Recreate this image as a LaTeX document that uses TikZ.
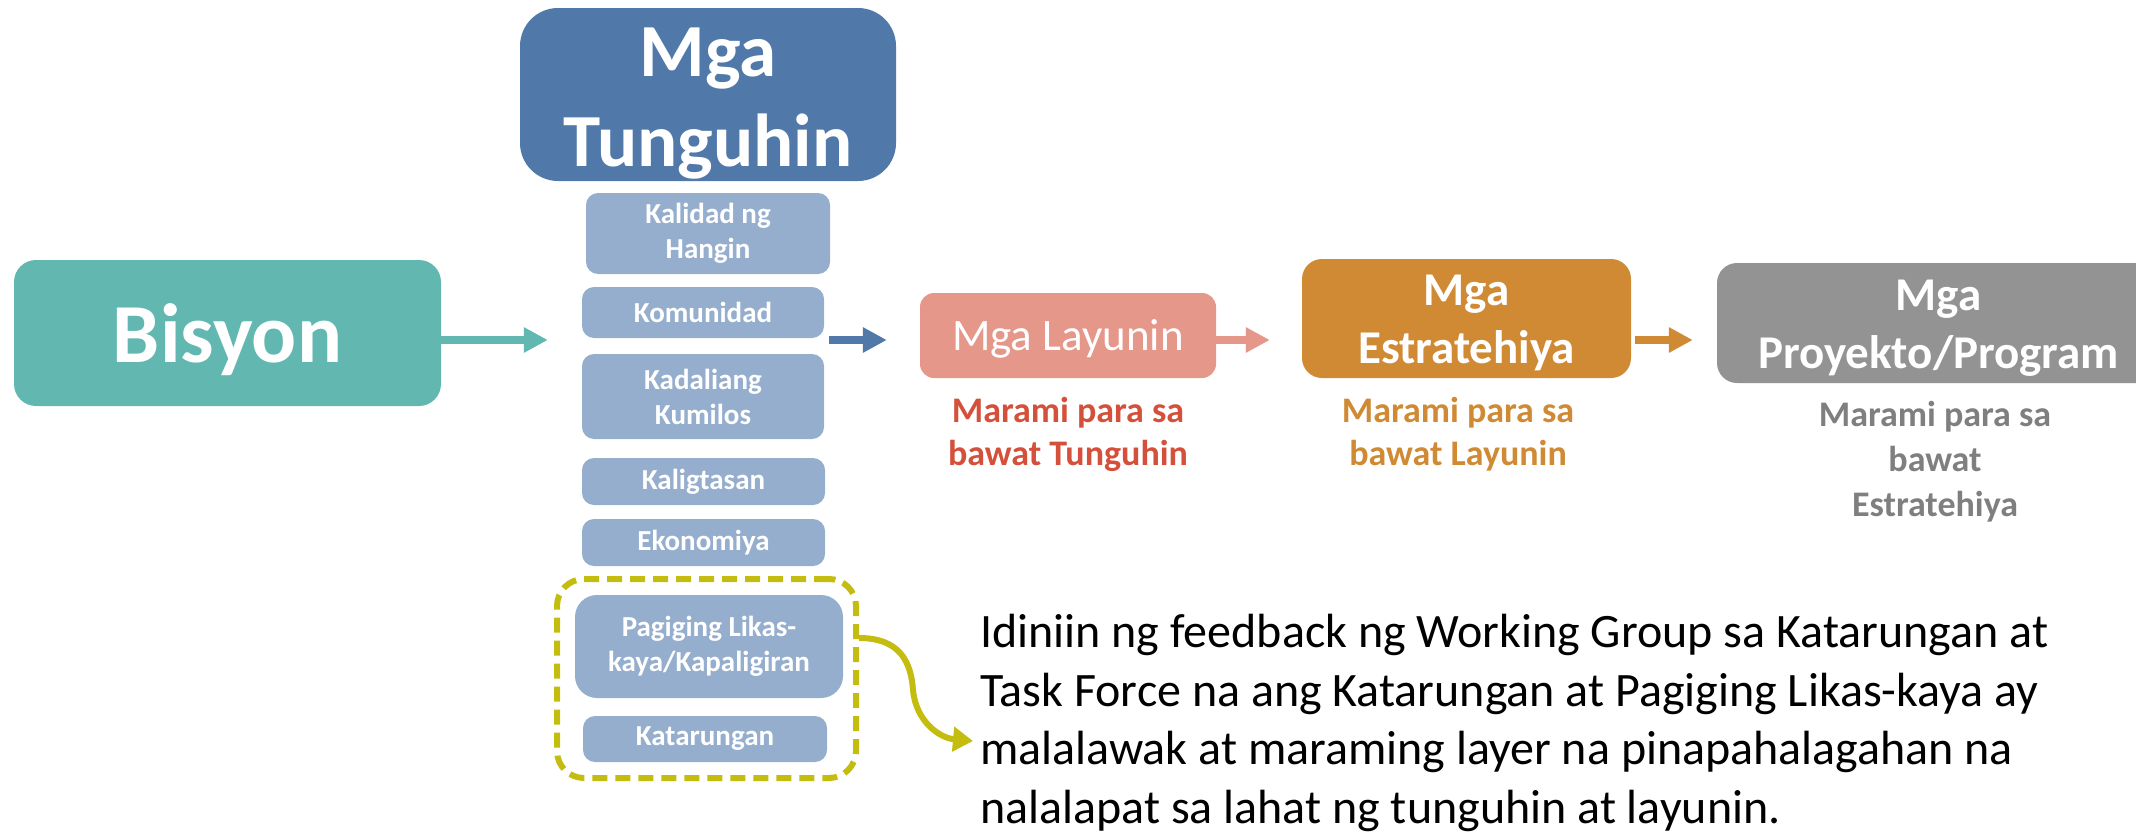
\documentclass[tikz,border=0pt]{standalone}
\usepackage{fontspec}
\setmainfont{Carlito}
\usetikzlibrary{arrows.meta}
\definecolor{tealc}{HTML}{62B8B1}
\definecolor{dblue}{HTML}{5079AA}
\definecolor{lblue}{HTML}{95AECD}
\definecolor{salmon}{HTML}{E5978A}
\definecolor{orangec}{HTML}{D08A34}
\definecolor{greyc}{HTML}{939393}
\definecolor{redtxt}{HTML}{D4503A}
\definecolor{greytxt}{HTML}{7F7F7F}
\definecolor{olive}{HTML}{C4BC0E}
\begin{document}
\begin{tikzpicture}[x=1pt,y=-1pt,
  sbox/.style={fill=lblue, rounded corners=12pt, inner sep=0pt, align=center, text=white,
    font=\fontsize{29}{35}\selectfont\bfseries},
  bigbox/.style={inner sep=0pt, align=center, text=white},
  blockarr/.style={line width=8pt, -{Triangle[length=24pt,width=24pt]}},
  subtxt/.style={anchor=north, inner sep=0pt, align=center, font=\fontsize{36}{43}\selectfont\bfseries},
]
\useasboundingbox (0,0) rectangle (2136,835);

% main boxes
\node[bigbox, fill=tealc, rounded corners=22pt, minimum width=427pt, minimum height=146pt,
  text depth=0pt, font=\fontsize{84}{90}\selectfont\bfseries] (bis) at (227.5,333) {Bisyon};
\node[bigbox, fill=dblue, rounded corners=38pt, minimum width=376pt, minimum height=173pt,
  font=\fontsize{75}{90}\selectfont\bfseries] (tun) at (708,94.5) {\rule{0pt}{66pt}Mga\\Tunguhin};

% goal boxes
\node[sbox, minimum width=244pt, minimum height=81pt] (kal) at (708,233.5) {Kalidad ng\\Hangin};
\node[sbox, minimum width=242pt, minimum height=51pt] (kom) at (703,312.5) {Komunidad};
\node[sbox, minimum width=242pt, minimum height=85pt] (kad) at (703,396.5) {Kadaliang\\Kumilos};
\node[sbox, minimum width=243pt, minimum height=47pt] (kli) at (703.5,481.5) {Kaligtasan};
\node[sbox, minimum width=243pt, minimum height=47pt] (eko) at (703.5,542.5) {Ekonomiya};
\node[sbox, rounded corners=22pt, minimum width=268pt, minimum height=103pt] (pag) at (709,646.5) {Pagiging Likas-\\kaya/Kapaligiran};
\node[sbox, minimum width=244pt, minimum height=46pt] (kat) at (705,739) {Katarungan};

% dashed group
\node[draw=olive, line width=6pt, dash pattern=on 15pt off 8pt, rounded corners=27pt,
  minimum width=299pt, minimum height=199pt, inner sep=0pt] (grp) at (706.5,678.5) {};

% right chain
\node[bigbox, fill=salmon, rounded corners=14pt, minimum width=296pt, minimum height=85pt,
  text depth=0pt, font=\fontsize{45}{50}\selectfont] (lay) at (1068,335.5) {Mga Layunin};
\node[bigbox, fill=orangec, rounded corners=20pt, minimum width=329pt, minimum height=119pt,
  font=\fontsize{47}{58}\selectfont\bfseries] (est) at (1466.5,318.5) {\rule{0pt}{40pt}Mga\\Estratehiya};
\node[bigbox, fill=greyc, rounded corners=20pt, minimum width=443pt, minimum height=120pt,
  font=\fontsize{47}{58}\selectfont\bfseries] (pro) at (1938.5,323) {\rule{0pt}{41pt}Mga\\Proyekto/Program};

\node[subtxt, text=redtxt] (s1) at (1068,397) {Marami para sa\\bawat Tunguhin};
\node[subtxt, text=orangec] (s2) at (1458,397) {Marami para sa\\bawat Layunin};
\node[subtxt, text=greytxt, font=\fontsize{36}{45}\selectfont\bfseries] (s3) at (1935,401) {Marami para sa\\bawat\\Estratehiya};

% note
\node[anchor=north west, inner sep=0pt, align=left, font=\fontsize{48}{58.7}\selectfont] (note) at (980,614)
 {Idiniin ng feedback ng Working Group sa Katarungan at\\
  Task Force na ang Katarungan at Pagiging Likas-kaya ay\\
  malalawak at maraming layer na pinapahalagahan na\\
  nalalapat sa lahat ng tunguhin at layunin.};

% arrows
\coordinate (ay) at (0,340);
\draw[blockarr, tealc, shorten >=34pt] (bis.east |- ay) -- (kom.west |- ay);
\draw[blockarr, dblue, shorten <=5pt, shorten >=33pt] (kom.east |- ay) -- (lay.west |- ay);
\draw[blockarr, salmon, shorten >=32pt] (lay.east |- ay) -- (est.west |- ay);
\draw[blockarr, orangec, shorten <=4pt, shorten >=24pt] (est.east |- ay) -- (pro.west |- ay);

\coordinate (tip) at (973,741);
\draw[olive, line width=6pt, -{Triangle[length=20pt,width=24pt]}]
  (grp.east |- 0,638) .. controls (900,638) and (911,662) .. (913,690)
  .. controls (916,722) and (940,738) .. (tip);
\end{tikzpicture}
\end{document}
